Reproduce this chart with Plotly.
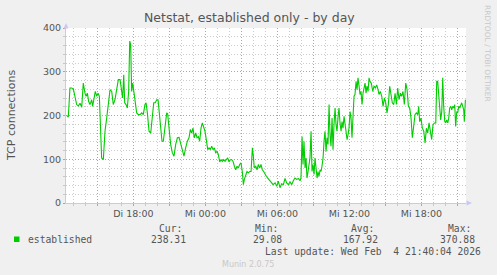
import plotly.graph_objects as go

# ---- data: time in hours since Tue 00:00, TCP established connections ----
hours = [
    12.45, 12.58, 12.72, 12.86, 13.00, 13.14, 13.28, 13.42, 13.56, 13.70,
    13.83, 13.97, 14.06, 14.17, 14.28, 14.39, 14.53, 14.61, 14.72, 14.83,
    14.95, 15.06, 15.17, 15.28, 15.36, 15.50, 15.64, 15.78, 15.92, 16.06,
    16.20, 16.33, 16.47, 16.61, 16.75, 16.89, 17.00, 17.11, 17.20, 17.28,
    17.39, 17.50, 17.61, 17.70, 17.78, 17.86, 17.95, 18.06, 18.17, 18.28,
    18.42, 18.56, 18.70, 18.83, 18.97, 19.06, 19.17, 19.31, 19.45, 19.58,
    19.70, 19.83, 19.95, 20.06, 20.17, 20.28, 20.39, 20.50, 20.64, 20.78,
    20.86, 20.97, 21.11, 21.25, 21.39, 21.53, 21.67, 21.81, 21.95, 22.08,
    22.22, 22.36, 22.50, 22.64, 22.75, 22.86, 22.97, 23.08, 23.20, 23.31,
    23.42, 23.53, 23.64, 23.75, 23.86, 23.97, 24.08, 24.20, 24.31, 24.42,
    24.53, 24.64, 24.75, 24.86, 24.97, 25.08, 25.20, 25.31, 25.42, 25.53,
    25.64, 25.75, 25.86, 25.97, 26.08, 26.20, 26.31, 26.42, 26.53, 26.64,
    26.75, 26.86, 26.97, 27.08, 27.17, 27.25, 27.36, 27.47, 27.58, 27.70,
    27.81, 27.92, 28.00, 28.08, 28.20, 28.31, 28.42, 28.53, 28.64, 28.75,
    28.86, 28.97, 29.08, 29.20, 29.31, 29.42, 29.53, 29.64,
    29.81, 29.95, 30.08, 30.22, 30.36, 30.50, 30.64, 30.78, 30.92, 31.06,
    31.20, 31.33, 31.47, 31.61, 31.75, 31.89, 31.97, 32.06, 32.14, 32.22,
    32.31, 32.39, 32.47, 32.56, 32.64, 32.72, 32.81, 32.89, 32.97, 33.06,
    33.14, 33.22, 33.31, 33.39, 33.47, 33.56, 33.64, 33.72, 33.81, 33.89,
    33.97, 34.06, 34.14, 34.22, 34.31, 34.39, 34.47, 34.56, 34.64, 34.72,
    34.81, 34.89, 34.97, 35.06, 35.14, 35.22, 35.31, 35.39, 35.47, 35.56,
    35.64, 35.72, 35.81, 35.89, 35.97, 36.06, 36.14, 36.22, 36.31, 36.39,
    36.47, 36.56, 36.64, 36.72, 36.81, 36.89, 36.97, 37.06, 37.14, 37.22,
    37.31, 37.39, 37.47, 37.56, 37.64, 37.72, 37.83, 37.95, 38.06, 38.17,
    38.28, 38.39,
    38.47, 38.58, 38.70, 38.81, 38.92, 39.03, 39.14, 39.25, 39.36, 39.47,
    39.58, 39.70, 39.81, 39.92, 40.03, 40.14, 40.25, 40.36, 40.47, 40.58,
    40.70, 40.81, 40.92, 41.03, 41.14, 41.25, 41.36, 41.47, 41.58, 41.70,
    41.78, 41.86, 41.97, 42.08, 42.20, 42.31, 42.42, 42.53, 42.64, 42.75,
    42.86, 42.97, 43.08, 43.20, 43.28, 43.36, 43.45, 43.53, 43.61, 43.70,
    43.78, 43.86, 43.95, 44.03, 44.11, 44.20, 44.28, 44.36, 44.45, 44.53,
    44.61, 44.70, 44.78, 44.86, 44.95, 45.03, 45.11, 45.20, 45.28, 45.36,
    45.45, 45.53, 45.58, 45.67,
]
established = [
    200, 196, 263, 263, 261, 244, 225, 222, 228, 219,
    274, 251, 244, 251, 232, 225, 236, 221, 240, 255,
    244, 251, 244, 179, 103, 99, 164, 194, 225, 259,
    255, 225, 236, 259, 282, 282, 259, 240, 293, 229,
    225, 217, 255, 370, 362, 255, 274, 248, 229, 206,
    202, 202, 206, 202, 225, 229, 206, 164, 160, 190,
    229, 229, 236, 236, 206, 164, 141, 141, 175, 206,
    204, 164, 134, 115, 107, 134, 149, 150, 134, 122,
    107, 126, 141, 149, 168, 160, 171, 149, 160, 149,
    152, 141, 171, 183, 175, 164, 145, 122, 126, 122,
    130, 122, 126, 115, 118, 111, 94, 99, 95, 99,
    95, 99, 103, 94, 99, 99, 95, 84, 76, 84,
    80, 88, 92, 72, 42, 54, 65, 72, 69, 72,
    72, 126, 107, 80, 84, 76, 88, 80, 88, 76,
    72, 65, 61, 57, 54, 50, 46, 42,
    46, 38, 50, 35, 44, 42, 56, 46, 42, 48,
    42, 51, 57, 54, 56, 51, 57, 152, 88, 141,
    80, 103, 57, 72, 88, 103, 164, 72, 88, 65,
    103, 80, 57, 72, 61, 76, 72, 84, 103, 141,
    164, 118, 149, 134, 225, 156, 130, 194, 122, 179,
    217, 179, 164, 198, 217, 183, 164, 186, 171, 198,
    179, 156, 145, 156, 171, 209, 194, 149, 186, 244,
    248, 278, 259, 286, 267, 248, 255, 225, 251, 259,
    274, 251, 267, 255, 286, 278, 274, 255, 267, 263,
    270, 259,
    248, 255, 244, 221, 240, 229, 206, 225, 267, 248,
    229, 225, 251, 225, 263, 236, 251, 244, 255, 225,
    274, 259, 221, 217, 194, 149, 179, 202, 206, 202,
    221, 186, 194, 171, 164, 137, 171, 160, 183, 164,
    145, 179, 183, 183, 278, 278, 236, 213, 190, 209,
    286, 221, 186, 183, 190, 183, 194, 217, 221, 213,
    221, 217, 225, 175, 209, 206, 221, 217, 225, 229,
    221, 213, 186, 236,
]

x_tick_vals = [15, 18, 21, 24, 27, 30, 33, 36, 39, 42, 45]
x_tick_text = ["", "Di 18:00", "", "Mi 00:00", "", "Mi 06:00", "", "Mi 12:00", "", "Mi 18:00", ""]
y_tick_vals = [0, 100, 200, 300, 400]

legend_name = "established"
stat_labels = ["Cur:", "Min:", "Avg:", "Max:"]
stat_values = ["238.31", "29.08", "167.92", "370.88"]
last_update = "Last update: Wed Feb  4 21:40:04 2026"
title_text = "Netstat, established only - by day"

# ---- layout geometry ----
W, H = 497, 275
L, T, PW, PH = 66, 28, 400, 175
R, B = W - L - PW, H - T - PH


def px(xp):
    return (xp - L) / PW


def py(yp):
    return (T + PH - yp) / PH


GREEN = "#00CC00"
AXIS = "#C8C8F8"
MAJ = "rgba(240,120,120,0.75)"
MIN = "rgba(190,190,190,0.8)"
TXT = "#555555"
MONO = "DejaVu Sans Mono"
SANS = "DejaVu Sans"

fig = go.Figure()
fig.add_trace(go.Scatter(
    x=hours, y=established, mode="lines",
    line=dict(color=GREEN, width=1.1), showlegend=False, hoverinfo="skip",
))

fig.update_layout(
    width=W, height=H,
    margin=dict(l=L, r=R, t=T, b=B, pad=0),
    paper_bgcolor="#F0F0F0", plot_bgcolor="#FFFFFF",
    font=dict(family=SANS, size=10, color=TXT),
    showlegend=False,
    xaxis=dict(
        range=[12.39, 45.72], tickmode="array", tickvals=x_tick_vals, ticktext=x_tick_text,
        showgrid=True, gridcolor=MAJ, griddash="1px,2px", gridwidth=1,
        ticks="outside", ticklen=2, tickcolor=MAJ, tickfont=dict(size=9.5, color=TXT),
        showline=True, linecolor=AXIS, linewidth=1, zeroline=False,
        minor=dict(dtick=1, tick0=0, showgrid=True, gridcolor=MIN, griddash="1px,2px",
                   ticks="outside", ticklen=2, tickcolor=MIN),
        fixedrange=True,
    ),
    yaxis=dict(
        range=[0, 400], tickmode="array", tickvals=y_tick_vals,
        showgrid=True, gridcolor=MAJ, griddash="1px,2px", gridwidth=1,
        ticks="outside", ticklen=2, tickcolor=MAJ, tickfont=dict(size=9.5, color=TXT),
        showline=True, linecolor=AXIS, linewidth=1, zeroline=False,
        minor=dict(dtick=20, tick0=0, showgrid=True, gridcolor=MIN, griddash="1px,2px",
                   ticks="outside", ticklen=2, tickcolor=MIN),
        fixedrange=True,
    ),
)

shapes = []
# axis arrows
shapes.append(dict(type="path", xref="paper", yref="paper",
                   path=f"M {px(466.5)},{py(200.5)} L {px(472)},{py(203)} L {px(466.5)},{py(205.5)} Z",
                   fillcolor=AXIS, line=dict(color=AXIS, width=0)))
shapes.append(dict(type="path", xref="paper", yref="paper",
                   path=f"M {px(63.5)},{py(28.5)} L {px(66)},{py(23)} L {px(68.5)},{py(28.5)} Z",
                   fillcolor=AXIS, line=dict(color=AXIS, width=0)))
# legend colour box
shapes.append(dict(type="rect", xref="paper", yref="paper",
                   x0=px(14), x1=px(19.5), y0=py(242), y1=py(236.5),
                   fillcolor=GREEN, line=dict(color=GREEN, width=0)))
fig.update_layout(shapes=shapes)

ann = []


def text(s, x, y, size, color=TXT, family=SANS, xanchor="center", angle=0):
    ann.append(dict(text=s, x=px(x), y=py(y), xref="paper", yref="paper",
                    showarrow=False, xanchor=xanchor, yanchor="middle",
                    font=dict(family=family, size=size, color=color), textangle=angle))


text(title_text, 249, 18, 12.5, color="#555555")
text("TCP connections", 11, 115, 11, color="#555555", angle=-90)
text("RRDTOOL / TOBI OETIKER", 488, 53, 7.5, color="#C8C8C8", angle=90)
text(legend_name, 26, 239.5, 9.7, family=MONO, xanchor="left")
header_right = [188, 284, 380, 477]
for lab, val, xr in zip(stat_labels, stat_values, header_right):
    text(lab, xr - 17.5, 228, 9.7, family=MONO, xanchor="center")
    text(val, xr, 239.5, 9.7, family=MONO, xanchor="right")
text(last_update, 482.5, 251, 9.7, family=MONO, xanchor="right")
text("Munin 2.0.75", 248, 264.5, 8, color="#C8C8C8")
fig.update_layout(annotations=ann)

fig.write_html("out.html")
